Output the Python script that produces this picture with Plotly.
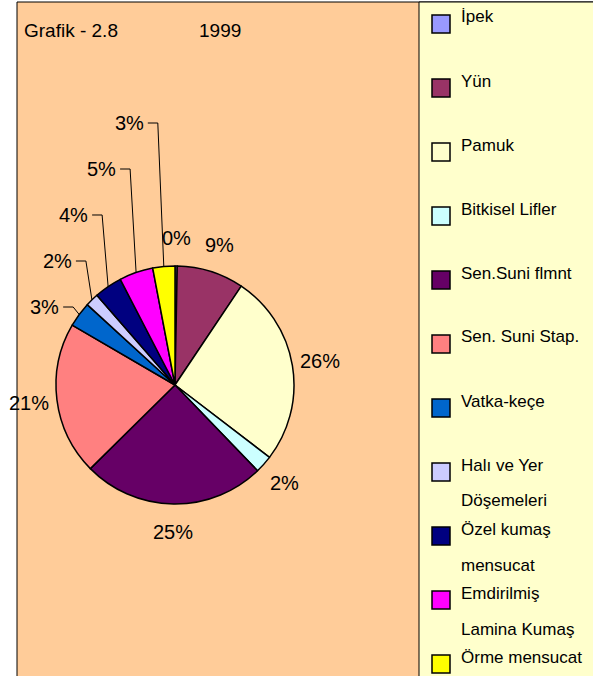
import numpy as np
import plotly.graph_objects as go

labels = ['İpek', 'Yün', 'Pamuk', 'Bitkisel Lifler', 'Sen.Suni flmnt', 'Sen. Suni Stap.',
          'Vatka-keçe', 'Halı ve Yer Döşemeleri', 'Özel kumaş mensucat',
          'Emdirilmiş Lamina Kumaş', 'Örme mensucat']
values = [0.3, 9.1, 26.0, 2.4, 24.8, 20.8, 3.4, 1.8, 3.8, 4.6, 3.0]
legend_text = ['İpek', 'Yün', 'Pamuk', 'Bitkisel Lifler', 'Sen.Suni flmnt', 'Sen. Suni Stap.',
               'Vatka-keçe', 'Halı ve Yer<br>Döşemeleri', 'Özel kumaş<br>mensucat',
               'Emdirilmiş<br>Lamina Kumaş', 'Örme mensucat']
colors = ['#9999FF', '#993366', '#FFFFCC', '#CCFFFF', '#660066', '#FF8080',
          '#0066CC', '#CCCCFF', '#000080', '#FF00FF', '#FFFF00']

W, H = 593, 676
FONT = 'Arial, Liberation Sans, sans-serif'
cx, cy, r = 175, 385, 119          # pie centre / radius in pixels
leader = [6, 7, 8, 9, 10]          # slices whose labels sit on leader lines


def px(x):
    return x / W


def py(y):
    return 1 - y / H


fig = go.Figure()

fig.add_trace(go.Pie(
    labels=labels, values=values, sort=False, direction='clockwise', rotation=0,
    marker=dict(colors=colors, line=dict(color='black', width=1.5)),
    textinfo='none', hoverinfo='label+percent', showlegend=False,
    domain=dict(x=[px(cx - r), px(cx + r)], y=[py(cy + r), py(cy - r)]),
))

shapes = []
annotations = []


def rect(x0, y0, x1, y1, fill, lw=1.0, layer='above'):
    shapes.append(dict(type='rect', xref='paper', yref='paper', x0=px(x0), x1=px(x1),
                       y0=py(y1), y1=py(y0), fillcolor=fill, layer=layer,
                       line=dict(color='black', width=lw)))


def text(x, y, s, size, anchor='center'):
    annotations.append(dict(xref='paper', yref='paper', x=px(x), y=py(y), text=s,
                            showarrow=False, xanchor=anchor, yanchor='middle',
                            font=dict(size=size, color='black', family=FONT)))


# backgrounds and frame
rect(17, 2, 600, 690, '#FFCC99', layer='below')
rect(419, 2, 600, 690, '#FFFFCC', layer='below')

text(22, 31, 'Grafik - 2.8', 19, 'left')
text(197, 31, '1999', 19, 'left')

# percentage labels
total = sum(values)
cum = np.cumsum([0] + values[:-1]) / total
for i, v in enumerate(values):
    theta = 2 * np.pi * (cum[i] + v / total / 2)
    txt = '%d%%' % round(v / total * 100)
    if i in leader:
        k = leader.index(i)
        ex = cx + r * np.sin(theta)
        ey = cy - r * np.cos(theta)
        ly = 307 - 46 * k
        elbow = ex - 6
        shapes.append(dict(type='path', xref='paper', yref='paper',
                           path='M %f %f L %f %f L %f %f' % (px(elbow - 10), py(ly), px(elbow), py(ly),
                                                             px(ex), py(ey)),
                           line=dict(color='black', width=1)))
        text(elbow - 12, ly, txt, 20, 'right')
    else:
        d = 147
        text(cx + d * np.sin(theta), cy - d * np.cos(theta), txt, 20)

# legend
for i, (t, c) in enumerate(zip(legend_text, colors)):
    yc = 24 + 64 * i
    rect(432, yc - 9, 450, yc + 9, c, lw=1.5)
    for j, ln in enumerate(t.split('<br>')):
        text(459, yc - 7 + 36 * j, ln, 17, 'left')

fig.update_layout(
    width=W, height=H, margin=dict(l=0, r=0, t=0, b=0),
    paper_bgcolor='white',
    shapes=shapes, annotations=annotations,
)
# drop the page's default 8px body margin so the figure fills the window
fig.write_html("out.html", config={'displayModeBar': False},
               post_script="document.body.style.margin='0';document.body.style.overflow='hidden';")
